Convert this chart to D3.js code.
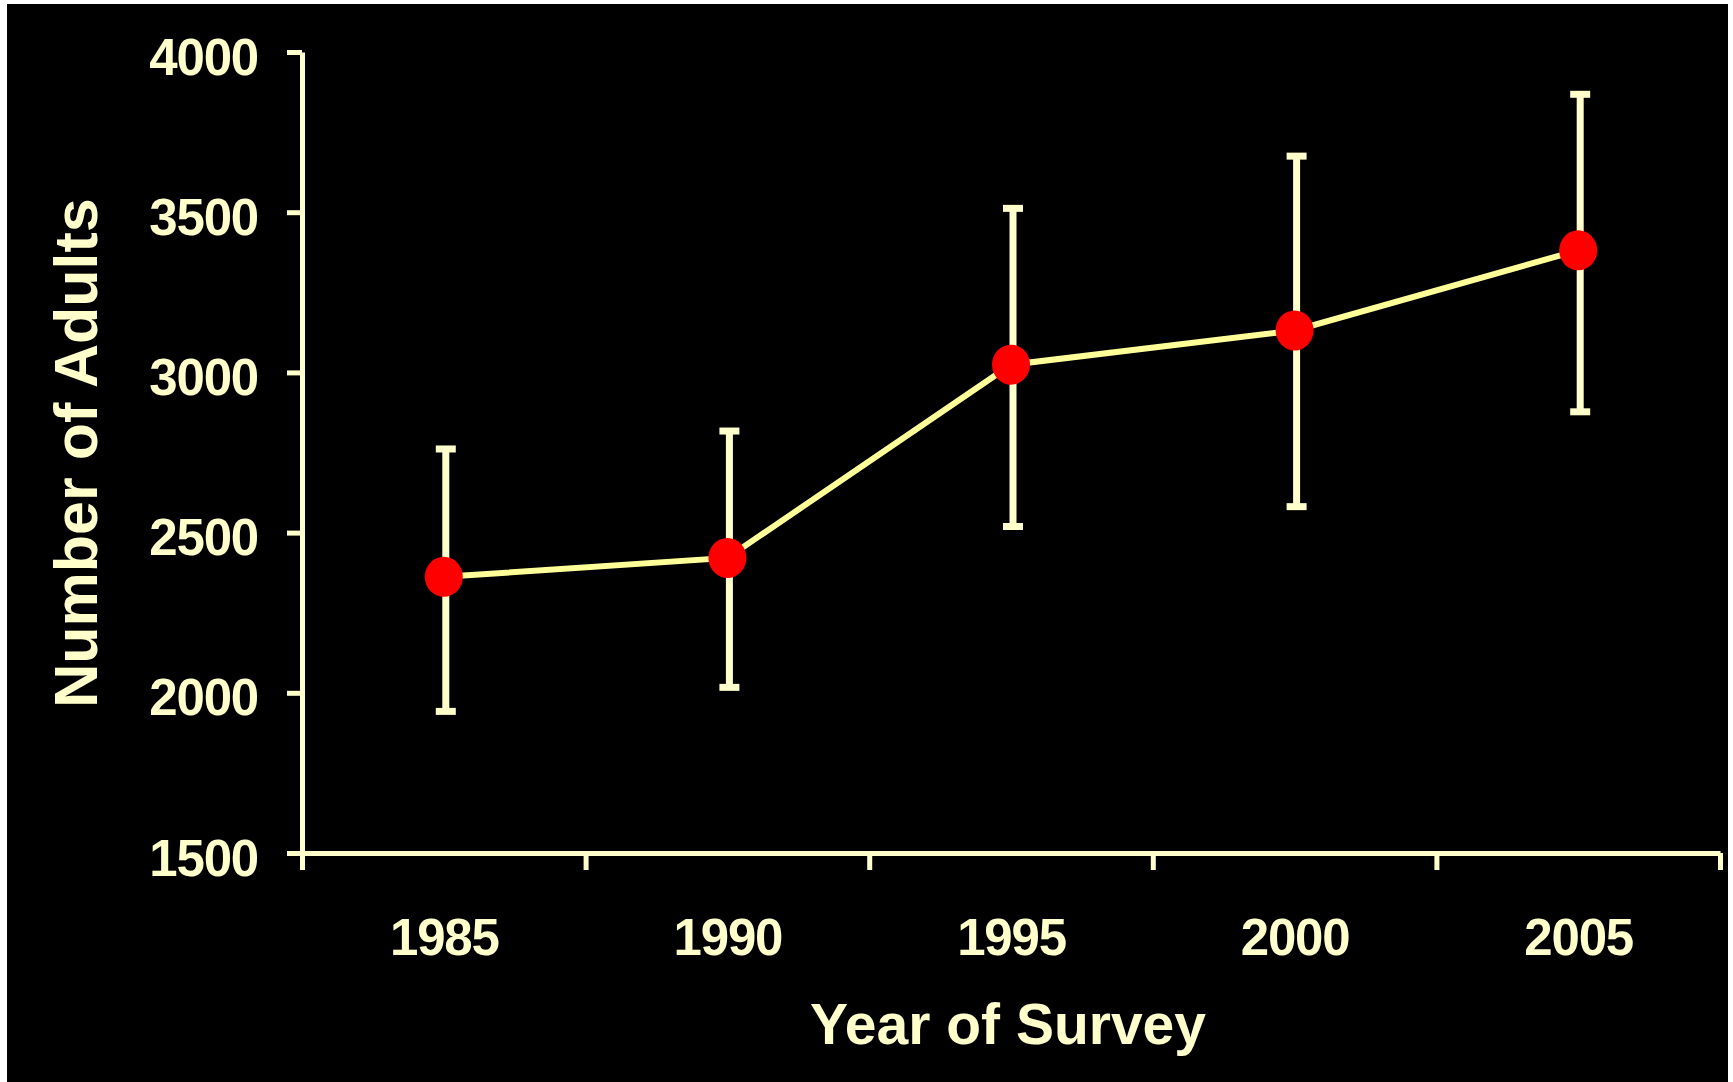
<!DOCTYPE html>
<html>
<head>
	<meta charset="utf-8">
	<script src="https://cdnjs.cloudflare.com/ajax/libs/d3/7.8.5/d3.min.js"></script>
	<style>
		html, body {
			margin: 0;
			padding: 0;
			background: #ffffff;
		}
		svg {
			display: block;
			font-family: "Liberation Sans", Arial, Helvetica, sans-serif;
			font-weight: 700;
		}
		.axis path, .axis line {
			stroke: #ffffcc;
			stroke-width: 5;
		}
		.axis text {
			fill: #ffffcc;
			font-family: "Liberation Sans", Arial, Helvetica, sans-serif;
			font-weight: 700;
			font-size: 51px;
			letter-spacing: -1.2px;
		}
	</style>
</head>
<body>
	<svg width="1733" height="1082"></svg>
	<script>
	// survey data
	let years = [1985, 1990, 1995, 2000, 2005];
	let adults = [2362, 2421, 3024, 3131, 3381];
	let upper = [2761, 2817, 3512, 3675, 3868];
	let lower = [1942, 2017, 2519, 2581, 2877];
	let yTicks = [1500, 2000, 2500, 3000, 3500, 4000];
	// tick marks sit between the years
	let xBounds = [1982.5, 1987.5, 1992.5, 1997.5, 2002.5, 2007.5];

	let data = years.map(function(d, i) {
		return {year: d, value: adults[i], hi: upper[i], lo: lower[i]};
	});

	let svg = d3.select("svg");
	let textColor = "#ffffcc";

	//black slide background
	svg.append("rect")
		.attr("x", 7)
		.attr("y", 4)
		.attr("width", 1721)
		.attr("height", 1078)
		.style("fill", "#000000");

	//define scales
	let x = d3.scaleLinear().domain([1982.5, 2007.5]).range([302, 1720]),
		y = d3.scaleLinear().domain([1500, 4000]).range([853, 52]);

	//x axis: tick marks at band edges
	svg.append("g")
		.attr("class", "axis x-axis")
		.attr("transform", "translate(0,853)")
		.call(d3.axisBottom(x).tickValues(xBounds).tickFormat("").tickSize(17).tickSizeOuter(0));

	//x axis labels at the years
	let xLabels = svg.append("g")
		.attr("class", "axis x-labels")
		.attr("transform", "translate(0,853)")
		.call(d3.axisBottom(x).tickValues(years).tickFormat(d3.format("d")).tickSize(0));
	xLabels.select(".domain").remove();
	xLabels.selectAll("text").attr("y", 102).attr("dy", 0);

	//y axis
	let yAxis = svg.append("g")
		.attr("class", "axis y-axis")
		.attr("transform", "translate(302,0)")
		.call(d3.axisLeft(y).tickValues(yTicks).tickFormat(d3.format("d")).tickSize(15).tickSizeOuter(0));
	yAxis.selectAll("text").attr("x", -44).attr("dy", 22);

	//axis titles
	svg.append("text")
		.attr("x", 1008)
		.attr("y", 1044)
		.attr("text-anchor", "middle")
		.style("font-size", "57px")
		.style("fill", textColor)
		.text("Year of Survey");

	svg.append("text")
		.attr("transform", "translate(97,453) rotate(-90)")
		.attr("text-anchor", "middle")
		.style("font-size", "61px")
		.style("fill", textColor)
		.text("Number of Adults");

	//error bars
	let bars = svg.append("g").attr("class", "error-bars");
	let capHalf = 10, shift = 2;

	bars.selectAll(".stem")
		.data(data)
		.enter()
		.append("line")
		.attr("class", "stem")
		.attr("x1", function(d) { return x(d.year) + shift; })
		.attr("x2", function(d) { return x(d.year) + shift; })
		.attr("y1", function(d) { return y(d.hi); })
		.attr("y2", function(d) { return y(d.lo); })
		.style("stroke", textColor)
		.style("stroke-width", 7);

	bars.selectAll(".cap-hi")
		.data(data)
		.enter()
		.append("line")
		.attr("class", "cap-hi")
		.attr("x1", function(d) { return x(d.year) + shift - capHalf; })
		.attr("x2", function(d) { return x(d.year) + shift + capHalf; })
		.attr("y1", function(d) { return y(d.hi); })
		.attr("y2", function(d) { return y(d.hi); })
		.style("stroke", textColor)
		.style("stroke-width", 7);

	bars.selectAll(".cap-lo")
		.data(data)
		.enter()
		.append("line")
		.attr("class", "cap-lo")
		.attr("x1", function(d) { return x(d.year) + shift - capHalf; })
		.attr("x2", function(d) { return x(d.year) + shift + capHalf; })
		.attr("y1", function(d) { return y(d.lo); })
		.attr("y2", function(d) { return y(d.lo); })
		.style("stroke", textColor)
		.style("stroke-width", 7);

	//connecting line
	let line = d3.line()
		.x(function(d) { return x(d.year); })
		.y(function(d) { return y(d.value); });

	svg.append("path")
		.datum(data)
		.attr("d", line)
		.style("fill", "none")
		.style("stroke", "#ffff99")
		.style("stroke-width", 6);

	//points
	svg.selectAll(".dot")
		.data(data)
		.enter()
		.append("ellipse")
		.attr("class", "dot")
		.attr("cx", function(d) { return x(d.year); })
		.attr("cy", function(d) { return y(d.value); })
		.attr("rx", 19)
		.attr("ry", 20)
		.style("fill", "#ff0000");
	</script>
</body>
</html>
